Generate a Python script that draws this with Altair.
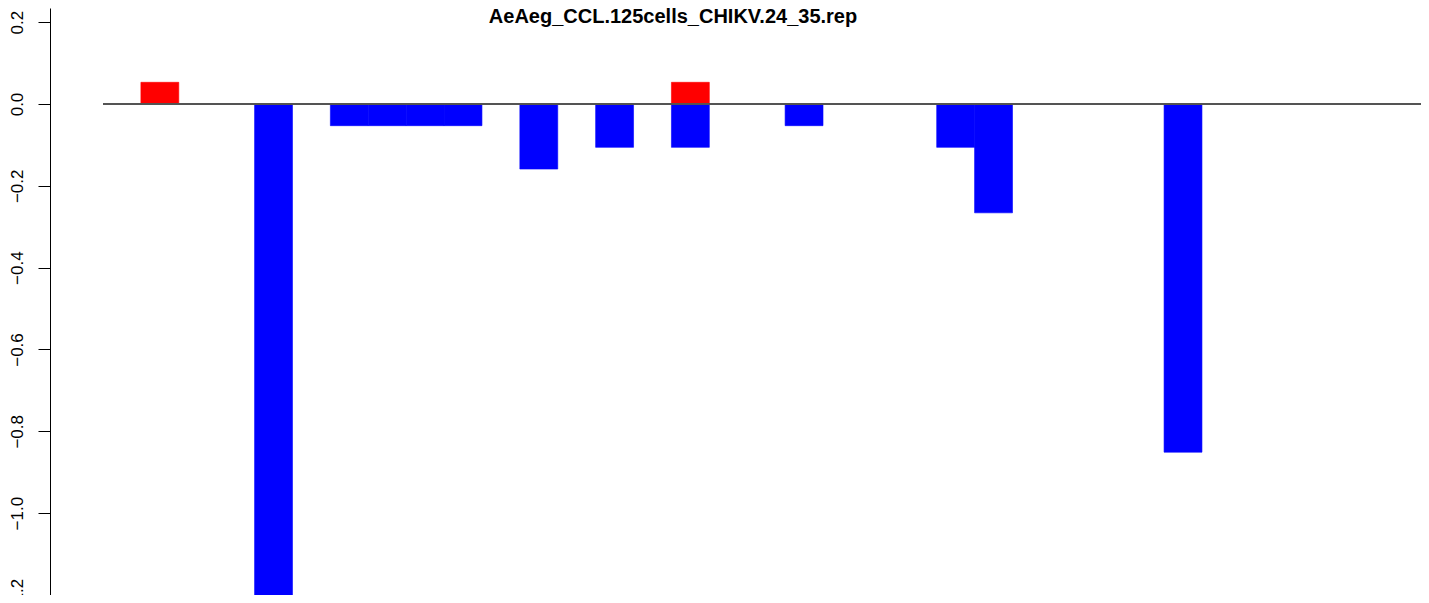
import altair as alt
import pandas as pd

# slot positions 1..35
positions = list(range(1, 36))
# positive (red) series
up_values = [0, 0.053, 0, 0, 0, 0, 0, 0, 0, 0,
             0, 0, 0, 0, 0, 0.053, 0, 0, 0, 0,
             0, 0, 0, 0, 0, 0, 0, 0, 0, 0,
             0, 0, 0, 0, 0]
# negative (blue) series
down_values = [0, 0, 0, 0, -1.25, 0, -0.053, -0.053, -0.053, -0.053,
               0, -0.159, 0, -0.106, 0, -0.106, 0, 0, -0.053, 0,
               0, 0, -0.106, -0.266, 0, 0, 0, 0, -0.851, 0,
               0, 0, 0, 0, 0]
y_ticks = [0.2, 0.0, -0.2, -0.4, -0.6, -0.8, -1.0, -1.2]
title_text = "AeAeg_CCL.125cells_CHIKV.24_35.rep"

rows = []
for p, u, d in zip(positions, up_values, down_values):
    if u != 0:
        rows.append({"pos": p, "value": u, "series": "up"})
    if d != 0:
        rows.append({"pos": p, "value": d, "series": "down"})
df = pd.DataFrame(rows)

xscale = alt.Scale(domain=[0, 34.78], nice=False, zero=False)
yscale = alt.Scale(domain=[-1.2, 0.2346], nice=False, zero=False)
cscale = alt.Scale(domain=["up", "down"], range=["#ff0000", "#0000ff"])

bars = alt.Chart(df).transform_calculate(
    start="datum.pos - 1", end="datum.pos"
).mark_bar(clip=True, strokeWidth=0.6).encode(
    x=alt.X("start:Q", scale=xscale, axis=None),
    x2="end:Q",
    y=alt.Y("value:Q", scale=yscale,
            axis=alt.Axis(values=y_ticks, format=".1f", title=None, grid=False,
                          offset=53, tickSize=12, tickColor="black", domainColor="black",
                          labelAngle=-90, labelAlign="center", labelBaseline="alphabetic",
                          labelPadding=16, labelFontSize=17, labelFont="Liberation Sans",
                          labelColor="black", tickWidth=1, domainWidth=1)),
    y2=alt.datum(0),
    color=alt.Color("series:N", scale=cscale, legend=None),
    stroke=alt.Stroke("series:N", scale=cscale, legend=None),
)

zero_line = alt.Chart(df).mark_rule(color="#555555", strokeWidth=1).encode(
    y=alt.datum(0, scale=yscale)
)

chart = alt.layer(bars, zero_line).properties(
    width=1318, height=587,
    autosize=alt.AutoSizeParams(type="none"),
    padding={"left": 95, "top": 0, "right": 0, "bottom": 0},
    title=alt.TitleParams(title_text, font="Liberation Sans", fontSize=20, fontWeight="bold",
                          color="black", offset=-19, anchor="middle", dx=-89),
).configure_view(stroke=None)

chart.save("out.html", embed_options={"renderer": "svg", "actions": False})
